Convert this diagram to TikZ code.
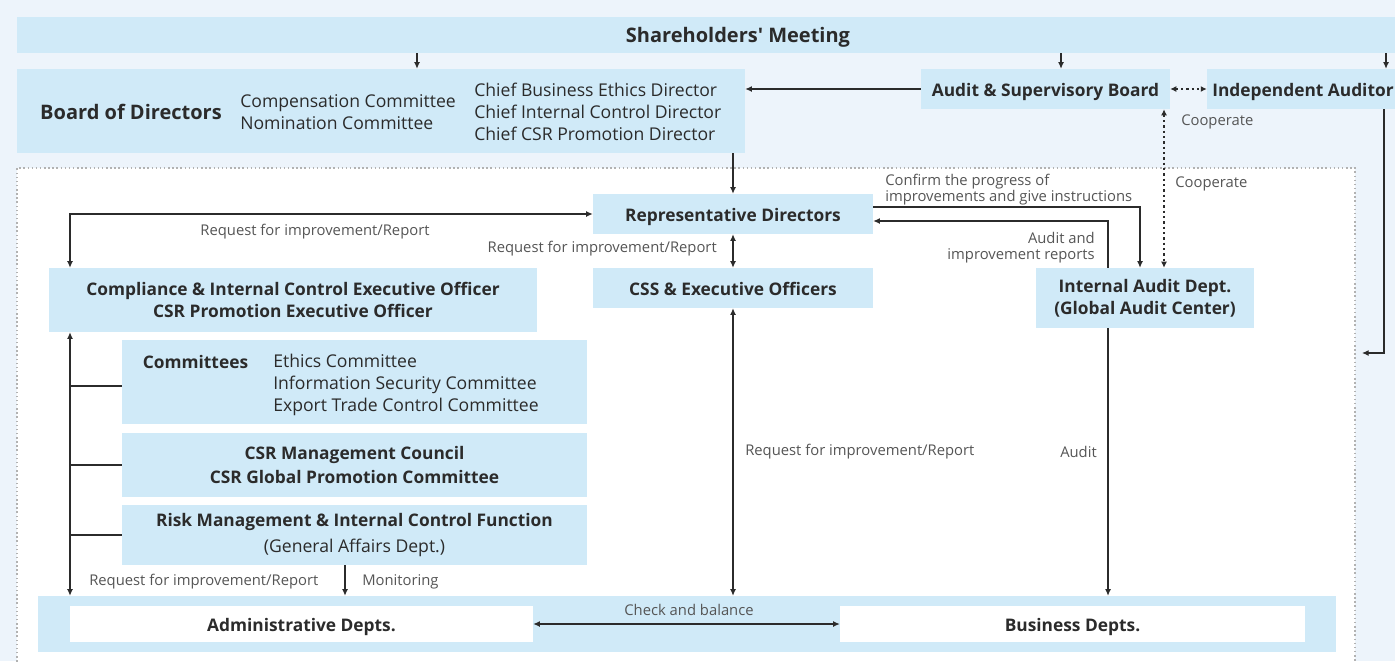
\documentclass[tikz,border=0pt]{standalone}
\usepackage{fontspec}
\setmainfont{Open Sans}
\usetikzlibrary{arrows.meta}
\definecolor{pale}{HTML}{EDF4FB}
\definecolor{boxblue}{HTML}{D0EAF8}
\definecolor{ink}{HTML}{2B2B2B}
\definecolor{note}{HTML}{555555}
\tikzset{
  sz/.style 2 args={minimum width=#1*0.75pt, minimum height=#2*0.75pt},
  box/.style={fill=boxblue, inner sep=0pt, text=ink, align=center,
    font=\fontsize{13}{16.5}\selectfont\bfseries},
  one/.style={text height=11pt, text depth=0.5pt},
  whitebox/.style={box, fill=white},
  plain/.style={inner sep=0pt, text=ink, align=left,
    font=\fontsize{13.2}{16.5}\selectfont},
  lbl/.style={inner sep=0pt, text=note, align=left,
    font=\fontsize{11.1}{12}\selectfont},
  tip/.tip={Latex[length=5pt,width=4.5pt]},
  arr/.style={draw=ink, line width=0.8pt, -tip},
  arr2/.style={draw=ink, line width=0.8pt, tip-tip},
  darr/.style={draw=ink, line width=1.7pt, dash pattern=on 1.7pt off 2.3pt,
    {Latex[length=4.5pt,width=4.5pt]}-{Latex[length=4.5pt,width=4.5pt]}},
  link/.style={draw=ink, line width=0.8pt}
}
\begin{document}
\begin{tikzpicture}[x=0.75pt,y=-0.75pt]
\useasboundingbox (0,0) rectangle (1395,661);
\fill[pale] (0,0) rectangle (1395,661);
% dotted frame of the executive side
\fill[white] (17,168) rectangle (1355,670);
\draw[gray!60, line width=1.1pt, dotted] (17,670) -- (17,168) -- (1355,168) -- (1355,670);

% top level
\node[box, sz={1442}{36}, font=\fontsize{15}{16}\selectfont\bfseries, text height=12.5pt, text depth=0.8pt] (sm) at (738,35) {Shareholders\textquotesingle\ Meeting};
\node[box, sz={728}{84}] (bod) at (381,111) {};
\node[box, fill=none, font=\fontsize{15}{16}\selectfont\bfseries] (bodt) at (131,112) {Board of Directors};
\node[plain, anchor=west] (bodc) at (240,112) {Compensation Committee\\Nomination Committee};
\node[plain, anchor=west] (bodd) at (474,111.5) {Chief Business Ethics Director\\Chief Internal Control Director\\Chief CSR Promotion Director};
\node[box, one, sz={249}{40}] (asb) at (1045.5,89) {Audit \& Supervisory Board};
\node[box, one, sz={192}{40}] (ia) at (1303,89) {Independent Auditor};

% executive side
\node[box, one, sz={280}{40}] (rd) at (733,214) {Representative Directors};
\node[box, one, sz={280}{40}] (css) at (733,288) {CSS \& Executive Officers};
\node[box, sz={488}{64}] (cie) at (293,300) {Compliance \& Internal Control Executive Officer\\CSR Promotion Executive Officer};
\node[box, sz={218}{60}] (iad) at (1145,298) {Internal Audit Dept.\\(Global Audit Center)};
\node[box, sz={465}{84}] (com) at (354.5,382) {};
\node[box, fill=none] (comt) at (195.5,362) {Committees};
\node[plain, anchor=west] (coml) at (273,384.5) {Ethics Committee\\Information Security Committee\\Export Trade Control Committee};
\node[box, sz={465}{64}] (csr) at (354.5,465) {CSR Management Council\\[1.5pt]CSR Global Promotion Committee};
\node[box, sz={465}{60}] (risk) at (354.5,535) {Risk Management \& Internal Control Function\\[3pt]{\fontsize{13.2}{16}\selectfont\mdseries (General Affairs Dept.)}};
\node[box, sz={1298}{56}] (band) at (687,624) {};
\node[whitebox, one, sz={463}{36}] (adm) at (301.5,624) {Administrative Depts.};
\node[whitebox, one, sz={465}{36}] (bus) at (1072.5,624) {Business Depts.};

% connectors
\draw[arr] (sm.south -| 417,0) -- (bod.north -| 417,0);
\draw[arr] (sm.south -| 1061,0) -- (asb.north -| 1061,0);
\draw[arr] (sm.south -| 1386,0) -- (ia.north -| 1386,0);
\draw[arr] (asb.west) -- (bod.east |- asb.west);
\draw[darr] (asb.east) -- (ia.west);
\draw[darr] (asb.south -| 1164,0) -- (iad.north -| 1164,0);
\coordinate (ent) at (1362,353);
\draw[arr] (ia.south -| 1384,0) |- (ent);
\draw[arr] (bod.south -| rd.north) -- (rd.north);
\draw[arr2] (rd.west) -| (cie.north -| 70,0);
\draw[arr2] (rd.south) -- (css.north);
\draw[arr] (rd.east |- 0,207) -| (iad.north -| 1140,0);
\draw[arr] (iad.north -| 1108,0) |- (rd.east |- 0,221);
\draw[arr2] (css.south) -- (band.north -| css.south);
\draw[arr] (iad.south -| 1108,0) -- (band.north -| 1108,0);
\draw[arr2] (cie.south -| 70,0) -- (band.north -| 70,0);
\draw[link] (com.west |- 0,386) -- (70,386);
\draw[link] (csr.west) -- (csr.west -| 70,0);
\draw[link] (risk.west) -- (risk.west -| 70,0);
\draw[arr] (risk.south -| 345,0) -- (band.north -| 345,0);
\draw[arr2] (adm.east) -- (bus.west);

% labels
\node[lbl, anchor=west] at (1181,122) {Cooperate};
\node[lbl, anchor=west] at (1175,184) {Cooperate};
\node[lbl] at (315,232) {Request for improvement/Report};
\node[lbl, anchor=east] at (717,249) {Request for improvement/Report};
\node[lbl, anchor=west] at (885,190) {Confirm the progress of\\improvements and give instructions};
\node[lbl, anchor=east, align=right] at (1095,248) {Audit and\\improvement reports};
\node[lbl, anchor=west] at (745,452) {Request for improvement/Report};
\node[lbl, anchor=east] at (1097,452) {Audit};
\node[lbl, anchor=west] at (89,582) {Request for improvement/Report};
\node[lbl, anchor=west] at (362,582) {Monitoring};
\node[lbl] at (689,610) {Check and balance};
\end{tikzpicture}
\end{document}
